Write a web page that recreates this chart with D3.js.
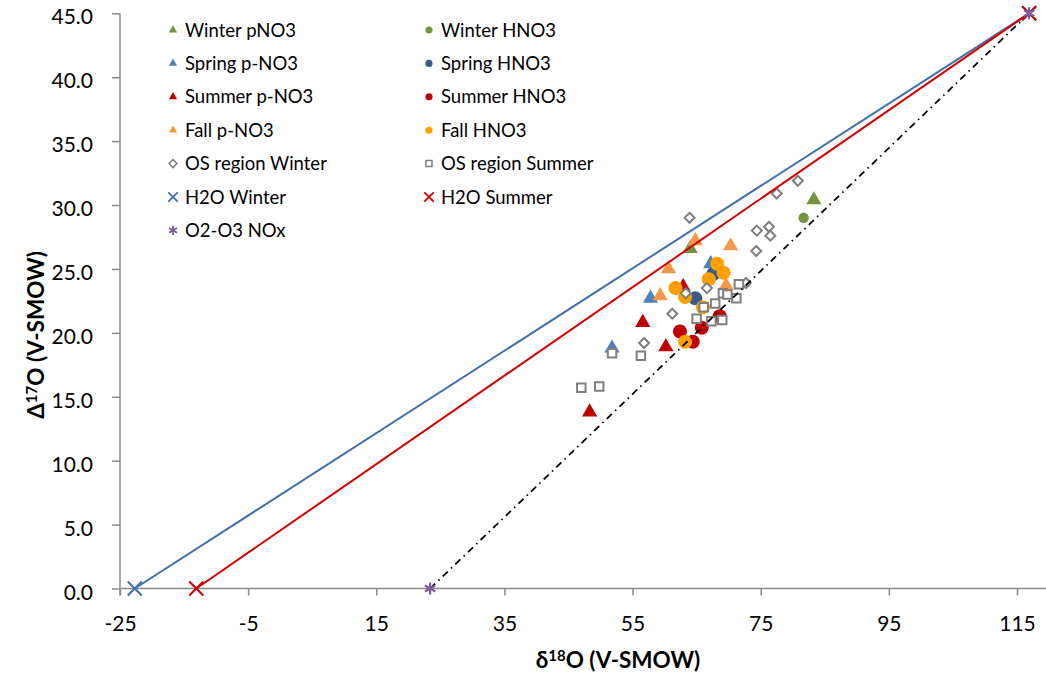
<!DOCTYPE html>
<html>
<head>
  <meta charset="utf-8">
  <title>D17O vs d18O</title>
  <script src="https://d3js.org/d3.v7.min.js"></script>
  <style>
    body { margin: 0; background: #fff; }
    text { font-family: Lato, "Open Sans", sans-serif; fill: #000; }
  </style>
</head>
<body>
<div id="chart"></div>
<script>
  // series values [d18O, D17O]
  const winterP = [[83.3, 30.4], [64.0, 26.6]];
  const winterH = [[81.7, 29.0]];
  const springP = [[67.2, 25.4], [57.8, 22.7], [51.8, 18.8]];
  const springH = [[64.8, 22.7], [67.6, 24.6]];
  const summerP = [[62.9, 23.6], [56.6, 20.8], [60.2, 18.9], [48.3, 13.8]];
  const summerH = [[62.4, 20.1], [64.4, 19.3], [65.8, 20.4], [68.6, 21.3]];
  const fallP = [[64.8, 27.2], [70.3, 26.8], [60.6, 25.0], [59.3, 22.9], [69.6, 23.7]];
  const fallH = [[68.2, 25.4], [69.2, 24.7], [66.9, 24.2], [61.7, 23.5], [63.2, 22.8], [66.0, 22.0], [63.2, 19.3]];
  const osWinter = [[80.8, 31.9], [77.5, 30.9], [63.9, 29.0], [74.4, 28.0], [76.3, 28.3], [76.5, 27.6],
                    [74.3, 26.4], [72.7, 23.9], [66.6, 23.5], [63.3, 23.1], [61.2, 21.5], [56.8, 19.2]];
  const osSummer = [[71.6, 23.8], [69.1, 23.1], [69.8, 23.0], [71.2, 22.7], [67.9, 22.3], [66.1, 22.0],
                    [65.0, 21.1], [67.3, 20.9], [69.0, 21.0], [51.8, 18.4], [56.3, 18.2], [47.0, 15.7], [49.8, 15.8]];
  const h2oWinter = [[-22.7, 0], [116.9, 45]];
  const h2oSummer = [[-13.1, 0], [116.9, 45]];
  const noxLine = [[23.4, 0], [116.9, 45]];

  const xTicks = [-25, -5, 15, 35, 55, 75, 95, 115];
  const yTicks = [0, 5, 10, 15, 20, 25, 30, 35, 40, 45];

  const W = 1046, H = 674;
  const x = d3.scaleLinear().domain([-25, 120]).range([120, 1049]);
  const y = d3.scaleLinear().domain([0, 45]).range([588.5, 13.3]);

  const svg = d3.select("#chart").append("svg")
    .attr("width", W).attr("height", H);

  const axisCol = "#8a8a8a";

  // axes
  const xAxis = svg.append("g")
    .attr("transform", "translate(0," + y(0) + ")")
    .call(d3.axisBottom(x).tickValues(xTicks).tickSize(7).tickFormat(d => d));
  xAxis.select(".domain").attr("d", "M120,0H1046").attr("stroke", axisCol).attr("stroke-width", 1.5);
  xAxis.selectAll(".tick line").attr("stroke", axisCol).attr("stroke-width", 1.5);
  xAxis.selectAll(".tick text").attr("y", 0).attr("dy", "42px")
    .style("font-size", "21px").style("font-family", "Lato");

  const yAxis = svg.append("g")
    .attr("transform", "translate(" + x(-25) + ",0)")
    .call(d3.axisLeft(y).tickValues(yTicks).tickSize(8).tickFormat(d3.format(".1f")));
  yAxis.select(".domain").attr("d", "M0," + y(45) + "V" + (y(0) + 7)).attr("stroke", axisCol).attr("stroke-width", 1.5);
  yAxis.selectAll(".tick line").attr("stroke", axisCol).attr("stroke-width", 1.5);
  yAxis.selectAll(".tick text").attr("x", -27).attr("dy", "0.5em")
    .style("font-size", "21px").style("font-family", "Lato");

  // axis titles
  const xt = svg.append("text")
    .attr("x", 618).attr("y", 668)
    .attr("text-anchor", "middle")
    .style("font-size", "22.5px").style("font-weight", "bold");
  xt.append("tspan").text("δ");
  xt.append("tspan").attr("font-size", "15px").attr("dy", "-7").text("18");
  xt.append("tspan").attr("dy", "7").text("O (V-SMOW)");

  const yt = svg.append("text")
    .attr("transform", "translate(44,335) rotate(-90)")
    .attr("text-anchor", "middle")
    .style("font-size", "22.5px").style("font-weight", "bold");
  yt.append("tspan").text("Δ");
  yt.append("tspan").attr("font-size", "15px").attr("dy", "-7").text("17");
  yt.append("tspan").attr("dy", "7").text("O (V-SMOW)");

  // marker definitions
  const diamond = {
    draw(ctx, size) {
      const r = Math.sqrt(size / 2);
      ctx.moveTo(0, -r); ctx.lineTo(r, 0); ctx.lineTo(0, r); ctx.lineTo(-r, 0); ctx.closePath();
    }
  };
  const series = [
    {name: "Winter pNO3", data: winterP, type: d3.symbolTriangle, size: 100, fill: "#77933c", stroke: "none", lsize: 30},
    {name: "Winter HNO3", data: winterH, type: d3.symbolCircle, size: 85, fill: "#77933c", stroke: "none", lsize: 40},
    {name: "Spring p-NO3", data: springP, type: d3.symbolTriangle, size: 100, fill: "#4f81bd", stroke: "none", lsize: 30},
    {name: "Spring HNO3", data: springH, type: d3.symbolCircle, size: 155, fill: "#385d8a", stroke: "none", lsize: 40},
    {name: "Summer p-NO3", data: summerP, type: d3.symbolTriangle, size: 100, fill: "#c00000", stroke: "none", lsize: 30},
    {name: "Summer HNO3", data: summerH, type: d3.symbolCircle, size: 155, fill: "#c00000", stroke: "none", lsize: 40},
    {name: "Fall p-NO3", data: fallP, type: d3.symbolTriangle, size: 100, fill: "#f79646", stroke: "none", lsize: 30},
    {name: "Fall HNO3", data: fallH, type: d3.symbolCircle, size: 155, fill: "#ffa000", stroke: "none", lsize: 40},
    {name: "OS region Winter", data: osWinter, type: diamond, size: 50, fill: "#fff", stroke: "#7f7f7f", sw: 2, lsize: 32},
    {name: "OS region Summer", data: osSummer, type: d3.symbolSquare, size: 72, fill: "#fff", stroke: "#7f7f7f", sw: 2, lsize: 36},
    {name: "H2O Winter", data: h2oWinter, type: d3.symbolTimes, size: 130, fill: "none", stroke: "#3f6fad", sw: 2, lsize: 60, line: "#3f6fad"},
    {name: "H2O Summer", data: h2oSummer, type: d3.symbolTimes, size: 130, fill: "none", stroke: "#d40000", sw: 2, lsize: 60, line: "#d40000"},
    {name: "O2-O3 NOx", data: noxLine, type: d3.symbolAsterisk, size: 100, fill: "none", stroke: "#7b5c9e", sw: 2.2, lsize: 60, line: "#000", dash: "7,4.5,1.5,4.5"}
  ];

  const line = d3.line().x(d => x(d[0])).y(d => y(d[1]));

  // scatter markers
  series.filter(s => !s.line).forEach(s => {
    svg.append("g").selectAll("path")
      .data(s.data)
      .join("path")
      .attr("transform", d => "translate(" + x(d[0]) + "," + y(d[1]) + ")")
      .attr("d", d3.symbol().type(s.type).size(s.size))
      .attr("fill", s.fill)
      .attr("stroke", s.stroke)
      .attr("stroke-width", s.sw || 0);
  });

  // mixing lines drawn on top
  series.filter(s => s.line).forEach(s => {
    svg.append("path")
      .datum(s.data)
      .attr("d", line)
      .attr("fill", "none")
      .attr("stroke", s.line)
      .attr("stroke-width", s.dash ? 1.8 : 2)
      .attr("stroke-dasharray", s.dash || null);
  });
  series.filter(s => s.line).forEach(s => {
    svg.append("g").selectAll("path")
      .data(s.data)
      .join("path")
      .attr("transform", d => "translate(" + x(d[0]) + "," + y(d[1]) + ")")
      .attr("d", d3.symbol().type(s.type).size(s.size))
      .attr("fill", "none")
      .attr("stroke", s.stroke)
      .attr("stroke-width", s.sw);
  });

  // legend, two columns
  const legend = svg.append("g");
  series.forEach((s, i) => {
    const col = i % 2, row = Math.floor(i / 2);
    const g = legend.append("g")
      .attr("transform", "translate(" + (col ? 429 : 173) + "," + (30 + row * 33.4) + ")");
    g.append("path")
      .attr("d", d3.symbol().type(s.type).size(s.lsize))
      .attr("fill", s.line ? "none" : s.fill)
      .attr("stroke", s.stroke)
      .attr("stroke-width", s.sw ? (s.line ? 1.8 : 1.5) : 0);
    g.append("text")
      .attr("x", 12).attr("dy", "0.36em")
      .style("font-size", "18.5px")
      .text(s.name);
  });
</script>
</body>
</html>
